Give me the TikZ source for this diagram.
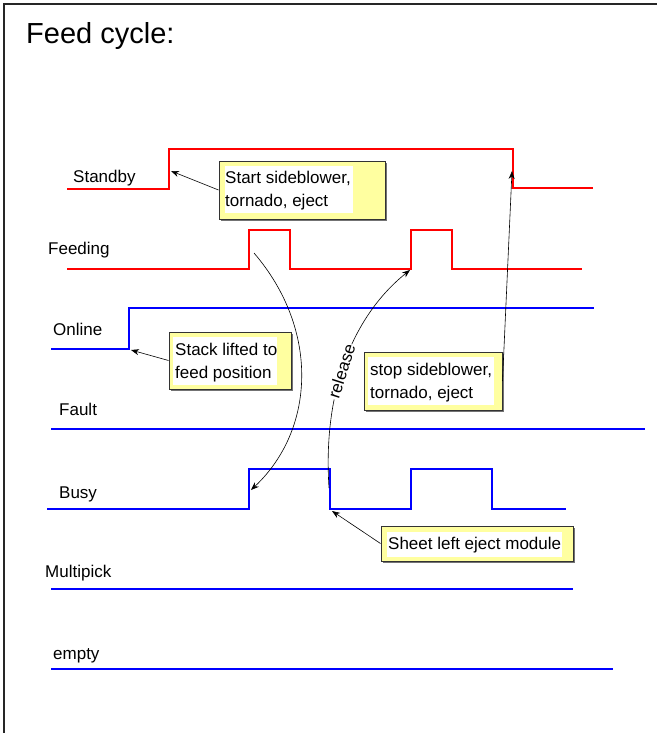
\documentclass[tikz,border=0pt]{standalone}
\usepackage{fontspec}
\setmainfont{Liberation Sans}
\usetikzlibrary{arrows.meta}
\definecolor{notefill}{RGB}{255,255,160}
\begin{document}
\begin{tikzpicture}[x=1pt,y=-1pt,
  sigred/.style={draw=red,line width=2.4pt,line join=miter},
  sigblue/.style={draw=blue,line width=2.4pt,line join=miter},
  lbl/.style={anchor=base west,font=\fontsize{17}{20}\selectfont,inner sep=0pt},
  notebox/.style={draw=black!80,line width=1pt,fill=notefill,inner sep=0pt},
  noteshadow/.style={fill=black!55},
  pointer/.style={-{Stealth[length=8pt,width=6pt]},line width=0.6pt,black}
]
\useasboundingbox (0,0) rectangle (657,733);
\fill[white] (0,0) rectangle (657,733);
% frame
\draw[line width=2pt,black!85] (4,733) -- (4,4) -- (657,4);
% title
\node[anchor=base west,inner sep=0pt,font=\fontsize{29}{32}\selectfont] (title) at (26,44) {Feed cycle:};

% signal labels
\node[lbl] (lstandby) at (73,182) {Standby};
\node[lbl] (lfeeding) at (48,254) {Feeding};
\node[lbl] (lonline) at (53,335) {Online};
\node[lbl] (lfault) at (59,415) {Fault};
\node[lbl] (lbusy) at (59,498) {Busy};
\node[lbl] (lmulti) at (45,577) {Multipick};
\node[lbl] (lempty) at (53,659) {empty};

% signals
\draw[sigred] (67,189) -- (169,189) -- (169,149) -- (513,149) -- (513,188) -- (593,188);
\draw[sigred] (67,269) -- (249,269) -- (249,230) -- (290,230) -- (290,269) -- (411,269) -- (411,230) -- (452,230) -- (452,269) -- (582,269);
\draw[sigblue] (51,349) -- (129,349) -- (129,308) -- (594,308);
\draw[sigblue] (51,429) -- (645,429);
\draw[sigblue] (47,509) -- (249,509) -- (249,469) -- (330,469) -- (330,509) -- (411,509) -- (411,469) -- (492,469) -- (492,509) -- (566,509);
\draw[sigblue] (51,589) -- (573,589);
\draw[sigblue] (51,669) -- (613,669);

% named points on the signals
\coordinate (sbrise) at (171,171);
\coordinate (sbfall) at (512,171);
\coordinate (onrise) at (131,350);
\coordinate (fdpulse) at (254,253);
\coordinate (fdrise) at (410,270);
\coordinate (burise) at (251,490);
\coordinate (bufall) at (329,488);
\coordinate (bufallb) at (332,511);

% curved connectors
\draw[pointer] (fdpulse) .. controls (320,330) and (315,430) .. (burise);
\draw[pointer] (bufall) .. controls (322,380) and (360,310) .. (fdrise)
  node[pos=0.42,sloped,fill=white,inner sep=1pt,font=\fontsize{17}{20}\selectfont] (rel) {release};

% note boxes
\fill[noteshadow] (221,163) rectangle (387,221);
\node[notebox,minimum width=166pt,minimum height=58pt] (b1) at (302,190) {};
\fill[white] (225,166) rectangle (353,213);
\node[lbl] (b1a) at (225,183) {Start sideblower,};
\node[lbl] (b1b) at (225,206) {tornado, eject};

\fill[noteshadow] (171,334) rectangle (293,391);
\node[notebox,minimum width=122pt,minimum height=57pt] (b2) at (230,360.5) {};
\fill[white] (173,337) rectangle (277,385);
\node[lbl] (b2a) at (175,355) {Stack lifted to};
\node[lbl] (b2b) at (175,378) {feed position};

\fill[noteshadow] (366,354) rectangle (504,412);
\node[notebox,minimum width=138pt,minimum height=58pt] (b3) at (433,381) {};
\fill[white] (368,357) rectangle (494,405);
\node[lbl] (b3a) at (370,375) {stop sideblower,};
\node[lbl] (b3b) at (370,398) {tornado, eject};

\fill[noteshadow] (383,528) rectangle (575,563);
\node[notebox,minimum width=192pt,minimum height=35pt] (b4) at (477,543.5) {};
\fill[white] (387,532) rectangle (562,557);
\node[lbl] (b4a) at (388,549) {Sheet left eject module};

% straight pointers
\draw[pointer] (b1.west) -- (sbrise);
\draw[pointer] (b2.west) -- (onrise);
\draw[pointer] (b3.east) -- (sbfall);
\draw[pointer] (b4.west) -- (bufallb);
\end{tikzpicture}
\end{document}
